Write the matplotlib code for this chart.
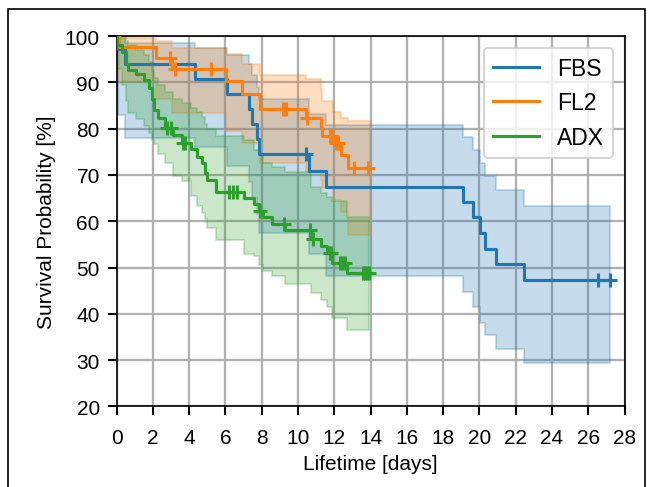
import numpy as np
import matplotlib
matplotlib.use("Agg")
import matplotlib.pyplot as plt
from matplotlib.patches import Rectangle

plt.rcParams["font.family"] = ["Liberation Sans", "DejaVu Sans"]

# FBS
fbs_t = [0, 0.1, 0.45, 4.3, 6.1, 7.3, 7.45, 7.75, 7.85, 10.6, 11.55,
         19.1, 19.65, 20.02, 20.3, 20.9, 22.46]
fbs_s = [100, 97.2, 93.9, 90.7, 87.5, 84.3, 81.0, 77.8, 74.5, 70.9, 67.4,
         64.1, 60.9, 57.5, 54.1, 50.8, 47.4]
fbs_lo = [100, 83, 78, 76, 72, 68.5, 65, 61.5, 57.5, 53, 48.2,
          44.8, 41.4, 38.1, 35.5, 32.5, 29.3]
fbs_hi = [100, 99.6, 98.6, 97.5, 96, 94, 91.5, 89, 86.4, 83.2, 80.7,
          78.2, 75.4, 72.5, 69.8, 66.8, 63.4]
fbs_cens = [10.45, 26.55, 27.2]
fbs_end = 27.2

# FL2
fl2_t = [0, 0.15, 2.2, 3.05, 6.05, 6.9, 7.9, 10.45, 11.25, 11.35, 11.95, 12.35, 12.75]
fl2_s = [100, 97.6, 95.3, 92.9, 90.4, 87.5, 84.3, 82.3, 80.4, 78.4, 77.0, 74.4, 71.5]
fl2_lo = [100, 90, 86.5, 83.5, 79.5, 77, 72.7, 70.6, 69, 67.3, 64.5, 62, 57]
fl2_hi = [100, 99.7, 99.0, 97.4, 96.2, 94.0, 91.5, 90.7, 88.5, 86.0, 83.6, 82.3, 81.6]
fl2_cens = [2.95, 3.2, 5.2, 9.2, 9.35, 10.5, 11.75, 11.85, 12.1, 12.2, 13.1, 13.85]
fl2_end = 13.95

# ADX
adx_t = [0, 0.05, 0.3, 0.5, 0.65, 1.1, 1.5, 1.8, 1.95, 2.05, 2.3, 2.65, 3.1, 3.6,
         4.1, 4.45, 4.7, 4.85, 5.0, 5.5, 7.0, 7.6, 7.85, 8.1, 8.55, 9.3, 10.7,
         11.25, 11.6, 11.9, 12.7]
adx_s = [100, 98.0, 96.5, 94.0, 92.6, 91.8, 90.5, 88.8, 86.4, 84.0, 82.3, 80.2,
         78.6, 77.0, 75.6, 73.8, 72.7, 70.5, 69.0, 66.4, 65.0, 63.7, 62.2, 60.9,
         59.4, 58.2, 56.1, 54.6, 53.2, 51.1, 48.8]
adx_lo = [100, 93, 89.5, 86, 83.5, 82, 80.5, 79, 77.5, 76.6, 74.5, 72.7, 69.7,
          68.6, 65.4, 63.2, 61.8, 60.5, 58.5, 56, 53, 52.5, 50.5, 49.2, 48.1,
          46.4, 44.6, 43.1, 41.4, 39.2, 36.6]
adx_hi = [100, 100, 100, 99, 98, 97, 96, 94.5, 92.5, 91, 89.5, 88, 86.5, 85.5,
          84.5, 83.6, 82.5, 81, 80, 78.5, 77.5, 75.5, 74.5, 72.7, 71.7, 70.6,
          67.5, 66.1, 65.2, 64.3, 61]
adx_cens = [2.8, 3.0, 3.65, 3.8, 6.2, 6.4, 6.65, 7.9, 9.25, 10.65, 10.85, 11.75,
            11.8, 12.3, 12.45, 12.6, 13.6, 13.7, 13.8, 13.9]
adx_end = 13.9

groups = [
    ("FBS", fbs_t, fbs_s, fbs_lo, fbs_hi, fbs_cens, fbs_end, "#1f77b4"),
    ("FL2", fl2_t, fl2_s, fl2_lo, fl2_hi, fl2_cens, fl2_end, "#ff7f0e"),
    ("ADX", adx_t, adx_s, adx_lo, adx_hi, adx_cens, adx_end, "#2ca02c"),
]

fig = plt.figure(figsize=(4.32, 3.253), dpi=150)
ax = fig.add_axes([0.1798, 0.165, 0.784, 0.759])

for name, t, s, lo, hi, cens, end, c in groups:
    tt = np.append(t, end)
    ss = np.append(s, s[-1])
    ll = np.append(lo, lo[-1])
    hh = np.append(hi, hi[-1])
    ax.plot(tt, ss, drawstyle="steps-post", color=c, lw=1.5, label=name, zorder=3)
    ax.fill_between(tt, ll, hh, step="post", color=c, alpha=0.25, zorder=2)
    idx = np.searchsorted(t, cens, side="right") - 1
    ax.plot(cens, np.array(s)[idx], ls="none", marker="+", ms=7, mew=1.5,
            color=c, zorder=4)

ax.set_xlim(0, 28)
ax.set_ylim(20, 100)
ax.set_xticks(np.arange(0, 29, 2))
ax.set_yticks(np.arange(20, 101, 10))
ax.tick_params(axis="both", length=4.5, width=1)
ax.tick_params(axis="x", pad=6)
ax.grid(True, color="#b0b0b0", lw=1.1)
ax.set_axisbelow(True)
ax.set_xlabel("Lifetime [days]", labelpad=3)
ax.set_ylabel("Survival Probability [%]")
ax.legend(loc="upper right", fontsize=11)

fig.patches.append(Rectangle((8 / 648, -0.1), (645 - 8) / 648, 1.1 - 10 / 488,
                             transform=fig.transFigure, fill=False,
                             ec="black", lw=0.8))

fig.savefig("out.png", dpi=150)
